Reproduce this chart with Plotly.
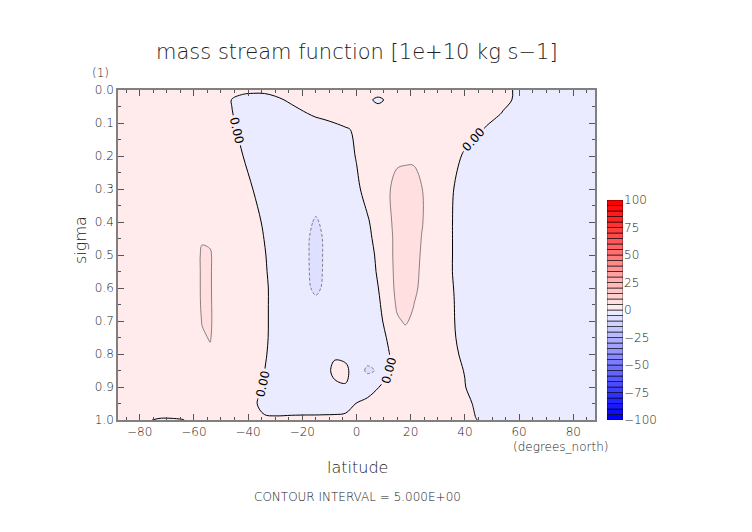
import plotly.graph_objects as go

# ---------------- data ----------------
lat = [-88, -80, -72, -64, -60, -57, -54, -50, -46, -42, -38, -34, -30, -24, -18, -15, -12, -8, -4, 0,
       4, 8, 12, 15, 18, 21, 24, 28, 32, 36, 40, 44, 48, 54, 60, 70, 80, 88]
sigma = [0.0, 0.03, 0.07, 0.12, 0.2, 0.3, 0.4, 0.45, 0.5, 0.55, 0.6, 0.65, 0.7, 0.75, 0.8, 0.85, 0.9, 0.95, 1.0]

psi_000 = [1.5,1.8,2,2,2,2,2,1.8,1.2,0.8,0.6,0.7,1,1.2,1.5,1.8,2,2,2,2,2,2.5,2,2,2,2,2,2,2,2,1.8,1.5,1.2,0.6,-0.4,-1.5,-1.5,-1]
psi_003 = [1.5,1.8,2,2,2,2,2,1.5,-0.1,-1,-1.2,-1.3,-0.6,0.5,1.5,1.8,2,2,2,2,1,-1,1,2,2.2,2.2,2.2,2,2,2,1.8,1.5,1.2,0.5,-0.4,-1.5,-1.5,-1]
psi_007 = [1.5,1.8,2,2.2,2.2,2.2,2,1.4,0.1,-1,-1.5,-1.8,-1.6,-1,0.05,0.6,1,1.5,1.8,2,2.2,2.5,2.4,2.4,2.5,2.5,2.4,2.2,2,1.8,1.5,1.2,1,-0.1,-1,-2,-2,-1.5]
psi_012 = [1.5,1.8,2.1,2.3,2.4,2.4,2.2,1.4,0.6,-0.8,-1.8,-2.2,-2.3,-2.2,-2,-1.8,-1.6,-1,-0.3,0.4,1.5,2.5,3,3.2,3.3,3.3,3,2.6,2.2,1.8,1.2,0.6,-0.3,-1.2,-1.8,-2.2,-2,-1.5]
psi_020 = [1.5,1.8,2.2,2.5,2.6,2.6,2.5,2,0.8,0.05,-1.5,-2.5,-2.8,-3,-3,-2.8,-2.6,-2,-1,0.15,1.5,2.2,2.5,3.8,4,4,3,2.5,2,0.8,-0.4,-1.5,-2,-2.2,-2.5,-2.5,-2,-1.5]
psi_030 = [1.5,2,2.4,2.8,3,3,2.8,2.2,1.5,0.8,-0.05,-2,-3,-3.5,-3.8,-3.5,-3.2,-2.5,-1.5,-0.5,0.9,2.5,4.6,7,7.5,7.5,5.2,3,1.5,-0.05,-1.5,-2.2,-2.5,-2.8,-3,-2.8,-2.2,-1.5]
psi_040 = [1.5,2,2.5,3,3.5,3.8,3.6,2.8,2,1.2,0.6,-0.25,-2.5,-3.5,-4.5,-5.3,-4.5,-3.5,-2.5,-1.5,-0.3,1.2,4,7,8,7.5,5.3,3,1.2,-0.2,-1.8,-2.5,-3,-3.2,-3.3,-3,-2.3,-1.5]
psi_045 = [1.5,2,2.6,3.3,4,4.6,4.5,3.2,2.3,1.5,0.8,-0.05,-2.3,-3.5,-4.5,-7,-4.5,-3.5,-2.8,-2,-0.6,0.8,3.5,6.8,8,7.5,4.9,3,1.2,-0.2,-2,-2.8,-3.2,-3.5,-3.5,-3.2,-2.5,-1.6]
psi_050 = [1.5,2.2,2.8,2.5,2.8,5.6,5.3,2.8,2.2,1.8,1.2,0.3,-1.8,-3.5,-4.5,-7.5,-4.5,-3.5,-2.8,-2,-1,0.5,3.5,6.8,8,7.2,4.5,2.8,1.2,-0.2,-2,-3,-3.4,-3.6,-3.6,-3.3,-2.6,-1.6]
psi_055 = [1.5,2.2,2.6,2.5,2.8,5.6,5.3,2.8,2.2,1.8,1.3,0.5,-1.5,-3.3,-4.5,-7,-4.5,-3.5,-2.8,-2.2,-1.2,0.3,3.4,6.5,7.8,6.8,4.2,2.6,1.1,-0.2,-2,-3,-3.5,-3.7,-3.7,-3.4,-2.7,-1.7]
psi_060 = [1.5,2.2,2.6,2.5,2.8,5.6,5.3,2.8,2.2,1.8,1.3,0.7,-1.2,-3,-4.5,-5.8,-4.5,-3.5,-2.8,-2.3,-1.5,-0.05,3.2,6.2,7.5,6.2,4,2.5,1,-0.05,-2,-3,-3.5,-3.7,-3.7,-3.4,-2.7,-1.7]
psi_065 = [1.5,2.2,2.5,2.5,2.8,5.5,5.35,2.8,2.2,1.8,1.3,0.7,-1.2,-2.8,-3.5,-4,-3.8,-3.3,-2.8,-2.3,-1.6,-0.8,3,5.5,6.8,5.1,3.5,2.3,0.9,0.05,-1.8,-2.8,-3.3,-3.6,-3.6,-3.3,-2.6,-1.7]
psi_070 = [1.5,2.1,2.4,2.4,2.7,5.15,5.4,2.8,2.2,1.8,1.3,0.7,-1.2,-2.6,-3.2,-3.5,-3.5,-3.2,-2.8,-2.4,-1.8,-1.4,2,4.6,5.3,4.5,3.2,2.2,0.9,0.1,-1.6,-2.6,-3.2,-3.5,-3.5,-3.2,-2.5,-1.6]
psi_075 = [1.4,2,2.3,2.3,2.5,4.6,5.2,2.7,2.1,1.7,1.2,0.65,-1.2,-2.5,-3,-3.2,-3.3,-3,-2.8,-2.5,-2,-1.5,0.5,2.5,4,3.6,3,2,1,0.25,-1.3,-2.4,-3,-3.3,-3.3,-3,-2.4,-1.5]
psi_080 = [1.3,1.9,2.2,2.2,2.4,4,4.5,2.5,2,1.6,1.1,0.4,-1.3,-2.3,-2.8,-2.8,-2.5,-0.6,-1.2,-2.2,-3,-2,-0.1,1.5,3,3,2.6,1.8,1,0.6,-0.8,-2.2,-2.8,-3.1,-3.1,-2.8,-2.2,-1.4]
psi_085 = [1.2,1.7,2,2,2.2,3.5,3.8,2.3,1.9,1.5,0.9,0.05,-1.4,-2,-2.4,-2.3,-1.6,1,1,-2.5,-5.8,-4.6,-0.3,1.5,2.2,2.4,2.2,1.6,1,0.6,-0.1,-1.8,-2.5,-2.8,-2.9,-2.6,-2,-1.3]
psi_090 = [1,1.4,1.7,1.8,2,2.6,2.7,2.1,1.7,1.3,0.7,-0.1,-1.5,-2,-2.2,-2.2,-2,-0.8,-0.3,-1.5,-1.5,-0.1,1,1.6,2,2,1.8,1.4,1,0.7,0.1,-1.2,-2,-2.5,-2.6,-2.4,-1.8,-1.2]
psi_095 = [0.6,0.8,1.2,1.5,1.6,1.8,1.9,1.6,1.3,0.8,0.3,-0.6,-1.2,-1.5,-1.6,-1.6,-1.5,-1.2,-0.7,0.05,0.8,1.5,2,2,2,2,1.8,1.5,1.2,1,0.6,-0.3,-1.5,-2,-2.2,-2,-1.5,-1]
psi_100 = [0.2,0.2,-0.15,-0.05,0.4,0.5,0.5,0.5,0.4,0.3,0.3,0.3,0.4,0.6,0.7,0.7,0.7,0.6,0.5,0.5,0.6,0.8,1,1,1,1,0.9,0.8,0.6,0.5,0.3,0.05,-0.3,-0.6,-0.7,-0.6,-0.4,-0.2]

psi = [psi_000, psi_003, psi_007, psi_012, psi_020, psi_030, psi_040, psi_045, psi_050, psi_055,
       psi_060, psi_065, psi_070, psi_075, psi_080, psi_085, psi_090, psi_095, psi_100]

levels = list(range(-100, 105, 5))            # contour levels (interval 5)
cbar_ticks = [-100, -75, -50, -25, 0, 25, 50, 75, 100]
x_ticks = [-80, -60, -40, -20, 0, 20, 40, 60, 80]
y_ticks = [0.0, 0.1, 0.2, 0.3, 0.4, 0.5, 0.6, 0.7, 0.8, 0.9, 1.0]

# ---------------- styles ----------------
nb = len(levels) - 1            # 40 bands
band_colors = []
for k in range(nb):
    if k >= nb // 2:            # positive bands -> red
        j = k - nb // 2
        t = round(20 + j * 235 / 19)
        band_colors.append(f"rgb(255,{255 - t},{255 - t})")
    else:                       # negative bands -> blue
        j = nb // 2 - 1 - k
        t = round(20 + j * 235 / 19)
        band_colors.append(f"rgb({255 - t},{255 - t},255)")

nc = len(levels)
cscale = [[0.0, band_colors[0]]]
for k in range(nb):
    cscale.append([(k + 1) / nc, band_colors[k]])
cscale.append([1.0, band_colors[-1]])

FONT = "DejaVu Sans"
TXT = "#222222"
LIGHT = 200

fig = go.Figure()

# filled tones
fig.add_trace(go.Contour(
    x=lat, y=sigma, z=psi,
    contours=dict(start=levels[0], end=levels[-1], size=5, coloring="fill", showlines=False),
    colorscale=cscale, showscale=False, line=dict(width=0), hoverinfo="skip"))

# +5 contour
fig.add_trace(go.Contour(
    x=lat, y=sigma, z=psi,
    contours=dict(start=5, end=5, size=5, coloring="none"),
    line=dict(color="#555555", width=0.7), showscale=False, hoverinfo="skip"))

# -5 contour (dashed)
fig.add_trace(go.Contour(
    x=lat, y=sigma, z=psi,
    contours=dict(start=-5, end=-5, size=5, coloring="none"),
    line=dict(color="#555555", width=0.7, dash="3px,2px"), showscale=False, hoverinfo="skip"))

# zero contour with labels (upper levels lie outside the data, so only the
# zero line is drawn; they only make plotly space the labels more densely)
fig.add_trace(go.Contour(
    x=lat, y=sigma, z=psi,
    contours=dict(start=0, end=300, size=10, coloring="none", showlabels=True,
                  labelfont=dict(family=FONT, size=12, color="black"), labelformat=".2f"),
    line=dict(color="black", width=1), showscale=False, hoverinfo="skip"))

# colour bar drawn as stacked bars
fig.add_trace(go.Bar(
    x=[0] * nb, y=[5] * nb, base=levels[:-1], width=1,
    marker=dict(color=band_colors, line=dict(color="black", width=0.6)),
    xaxis="x2", yaxis="y2", hoverinfo="skip", showlegend=False))

# page is shown with an 8px body margin -> work in screen pixels and shift
OFF = 8
W, H = 752, 532
L = 118 - OFF
T = 90 - OFF
R = W - (623 - OFF)
B = H - (420 - OFF)
pw, ph = W - L - R, H - T - B

def px(xs):
    return (xs - OFF - L) / pw

def py(ys):
    return (H - B - (ys - OFF)) / ph

tickfont = dict(family=FONT, size=12, color=TXT, weight=LIGHT)
axis_common = dict(showgrid=False, zeroline=False, showline=True, linecolor="#808080",
                   linewidth=1.5, mirror="allticks", ticks="inside", ticklen=6,
                   tickcolor="#555555", tickwidth=1, tickfont=tickfont)

def ann(text, xs, ys, size, angle=0):
    return dict(text=text, x=px(xs), y=py(ys), xref="paper", yref="paper", textangle=angle,
                showarrow=False, font=dict(family=FONT, size=size, color=TXT, weight=LIGHT),
                xanchor="center", yanchor="middle")

fig.update_layout(
    width=W, height=H,
    margin=dict(l=L, r=R, t=T, b=B),
    paper_bgcolor="white", plot_bgcolor="white",
    showlegend=False, barmode="overlay",
    xaxis=dict(domain=[0, px(595)], range=[-88, 88], tickvals=x_ticks,
               minor=dict(dtick=5, tick0=0, ticks="inside", ticklen=3, tickcolor="#555555"),
               **axis_common),
    yaxis=dict(domain=[0, 1], range=[1, 0], tickvals=y_ticks, tickformat=".1f",
               minor=dict(dtick=0.05, tick0=0, ticks="inside", ticklen=3, tickcolor="#555555"),
               **axis_common),
    xaxis2=dict(domain=[px(607), px(623)], range=[-0.5, 0.5], visible=False, anchor="y2"),
    yaxis2=dict(domain=[0, py(200)], range=[-100, 100], anchor="x2", side="right",
                tickvals=cbar_ticks, ticks="", showgrid=False, zeroline=False, showline=False,
                tickfont=tickfont),
    annotations=[
        ann("mass stream function [1e+10 kg s−1]", 357, 52, 21),
        ann("(1)", 100, 73, 12),
        ann("sigma", 80, 240, 16, -90),
        ann("latitude", 357, 467, 16),
        ann("(degrees_north)", 560, 447, 12),
        ann("CONTOUR INTERVAL = 5.000E+00", 357, 497, 12),
    ],
)

fig.write_html("out.html")
